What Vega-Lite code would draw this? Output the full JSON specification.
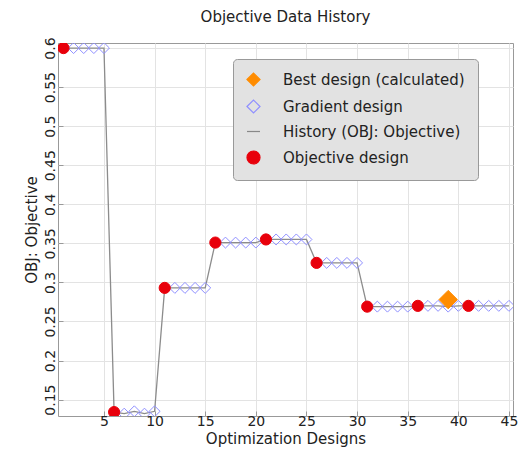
{
  "$schema": "https://vega.github.io/schema/vega-lite/v6.json",
  "width": 455,
  "height": 373,
  "autosize": {"type": "none"},
  "padding": {"left": 58, "top": 43, "right": 12, "bottom": 37},
  "background": "white",
  "title": {"text": "Objective Data History", "fontSize": 15, "fontWeight": "normal", "font": "DejaVu Sans", "color": "#222", "offset": 12, "anchor": "middle"},
  "config": {
    "font": "DejaVu Sans",
    "view": {"stroke": "#999", "strokeWidth": 1},
    "axis": {"domain": false, "gridColor": "#e3e3e3", "gridWidth": 1, "tickColor": "#999", "labelColor": "#222", "titleColor": "#222", "labelFontSize": 14, "titleFontSize": 15, "titleFontWeight": "normal", "labelFont": "DejaVu Sans", "titleFont": "DejaVu Sans"},
    "legend": {"orient": "none", "legendX": 175, "legendY": 16, "fillColor": "#e2e2e2", "strokeColor": "#999", "cornerRadius": 4, "padding": 13, "labelFontSize": 15, "labelFont": "DejaVu Sans", "labelColor": "#222", "labelOffset": 22, "labelLimit": 400, "rowPadding": 8, "symbolSize": 170, "symbolStrokeWidth": 1.2, "title": null}
  },
  "data": {"values": [
    {"design": 1, "obj": 0.6, "series": "Objective design"},
    {"design": 2, "obj": 0.6, "series": "Gradient design"},
    {"design": 3, "obj": 0.6, "series": "Gradient design"},
    {"design": 4, "obj": 0.6, "series": "Gradient design"},
    {"design": 5, "obj": 0.6, "series": "Gradient design"},
    {"design": 6, "obj": 0.134, "series": "Objective design"},
    {"design": 7, "obj": 0.132, "series": "Gradient design"},
    {"design": 8, "obj": 0.135, "series": "Gradient design"},
    {"design": 9, "obj": 0.132, "series": "Gradient design"},
    {"design": 10, "obj": 0.135, "series": "Gradient design"},
    {"design": 11, "obj": 0.293, "series": "Objective design"},
    {"design": 12, "obj": 0.293, "series": "Gradient design"},
    {"design": 13, "obj": 0.293, "series": "Gradient design"},
    {"design": 14, "obj": 0.293, "series": "Gradient design"},
    {"design": 15, "obj": 0.293, "series": "Gradient design"},
    {"design": 16, "obj": 0.351, "series": "Objective design"},
    {"design": 17, "obj": 0.351, "series": "Gradient design"},
    {"design": 18, "obj": 0.351, "series": "Gradient design"},
    {"design": 19, "obj": 0.351, "series": "Gradient design"},
    {"design": 20, "obj": 0.351, "series": "Gradient design"},
    {"design": 21, "obj": 0.355, "series": "Objective design"},
    {"design": 22, "obj": 0.355, "series": "Gradient design"},
    {"design": 23, "obj": 0.355, "series": "Gradient design"},
    {"design": 24, "obj": 0.355, "series": "Gradient design"},
    {"design": 25, "obj": 0.355, "series": "Gradient design"},
    {"design": 26, "obj": 0.325, "series": "Objective design"},
    {"design": 27, "obj": 0.325, "series": "Gradient design"},
    {"design": 28, "obj": 0.325, "series": "Gradient design"},
    {"design": 29, "obj": 0.325, "series": "Gradient design"},
    {"design": 30, "obj": 0.325, "series": "Gradient design"},
    {"design": 31, "obj": 0.269, "series": "Objective design"},
    {"design": 32, "obj": 0.269, "series": "Gradient design"},
    {"design": 33, "obj": 0.269, "series": "Gradient design"},
    {"design": 34, "obj": 0.269, "series": "Gradient design"},
    {"design": 35, "obj": 0.269, "series": "Gradient design"},
    {"design": 36, "obj": 0.27, "series": "Objective design"},
    {"design": 37, "obj": 0.27, "series": "Gradient design"},
    {"design": 38, "obj": 0.27, "series": "Gradient design"},
    {"design": 39, "obj": 0.269, "series": "Gradient design"},
    {"design": 40, "obj": 0.27, "series": "Gradient design"},
    {"design": 41, "obj": 0.27, "series": "Objective design"},
    {"design": 42, "obj": 0.27, "series": "Gradient design"},
    {"design": 43, "obj": 0.27, "series": "Gradient design"},
    {"design": 44, "obj": 0.27, "series": "Gradient design"},
    {"design": 45, "obj": 0.27, "series": "Gradient design"},
    {"design": 39, "obj": 0.278, "series": "Best design (calculated)"}
  ]},
  "encoding": {
    "x": {"field": "design", "type": "quantitative", "scale": {"domain": [0.46, 45.4], "nice": false, "zero": false},
      "axis": {"title": "Optimization Designs", "values": [5, 10, 15, 20, 25, 30, 35, 40, 45], "tickSize": -5, "labelPadding": 3, "titlePadding": 3}},
    "y": {"field": "obj", "type": "quantitative", "scale": {"domain": [0.129, 0.6065], "nice": false, "zero": false},
      "axis": {"title": "OBJ: Objective", "format": ".2~f", "values": [0.15, 0.2, 0.25, 0.3, 0.35, 0.4, 0.45, 0.5, 0.55, 0.6], "tickSize": -5, "labelAngle": -90, "labelAlign": "center", "labelBaseline": "bottom", "labelPadding": 6, "titlePadding": 4}}
  },
  "layer": [
    {
      "transform": [{"filter": "datum.series !== 'Best design (calculated)'"}],
      "mark": {"type": "line", "color": "#8c8c8c", "strokeWidth": 1.3, "clip": true}
    },
    {
      "transform": [{"filter": "datum.series === 'Gradient design'"}],
      "mark": {"type": "point", "strokeWidth": 1, "opacity": 1, "clip": true, "size": 120},
      "encoding": {
        "shape": {"field": "series", "type": "nominal", "scale": {"domain": ["Best design (calculated)", "Gradient design", "History (OBJ: Objective)", "Objective design"], "range": ["diamond", "diamond", "stroke", "circle"]}},
        "fill": {"field": "series", "type": "nominal", "scale": {"domain": ["Best design (calculated)", "Gradient design", "History (OBJ: Objective)", "Objective design"], "range": ["#ff8c00", "transparent", "transparent", "#e8000b"]}},
        "stroke": {"field": "series", "type": "nominal", "scale": {"domain": ["Best design (calculated)", "Gradient design", "History (OBJ: Objective)", "Objective design"], "range": ["#ff8c00", "#8f8fff", "#888888", "#e8000b"]}}
      }
    },
    {
      "transform": [{"filter": "datum.series === 'Objective design'"}],
      "mark": {"type": "point", "strokeWidth": 1, "opacity": 1, "clip": true, "size": 125},
      "encoding": {
        "shape": {"field": "series", "type": "nominal"},
        "fill": {"field": "series", "type": "nominal"},
        "stroke": {"field": "series", "type": "nominal"}
      }
    },
    {
      "transform": [{"filter": "datum.series === 'Best design (calculated)'"}],
      "mark": {"type": "point", "strokeWidth": 1, "opacity": 1, "clip": true, "size": 340},
      "encoding": {
        "shape": {"field": "series", "type": "nominal"},
        "fill": {"field": "series", "type": "nominal"},
        "stroke": {"field": "series", "type": "nominal"}
      }
    }
  ]
}
